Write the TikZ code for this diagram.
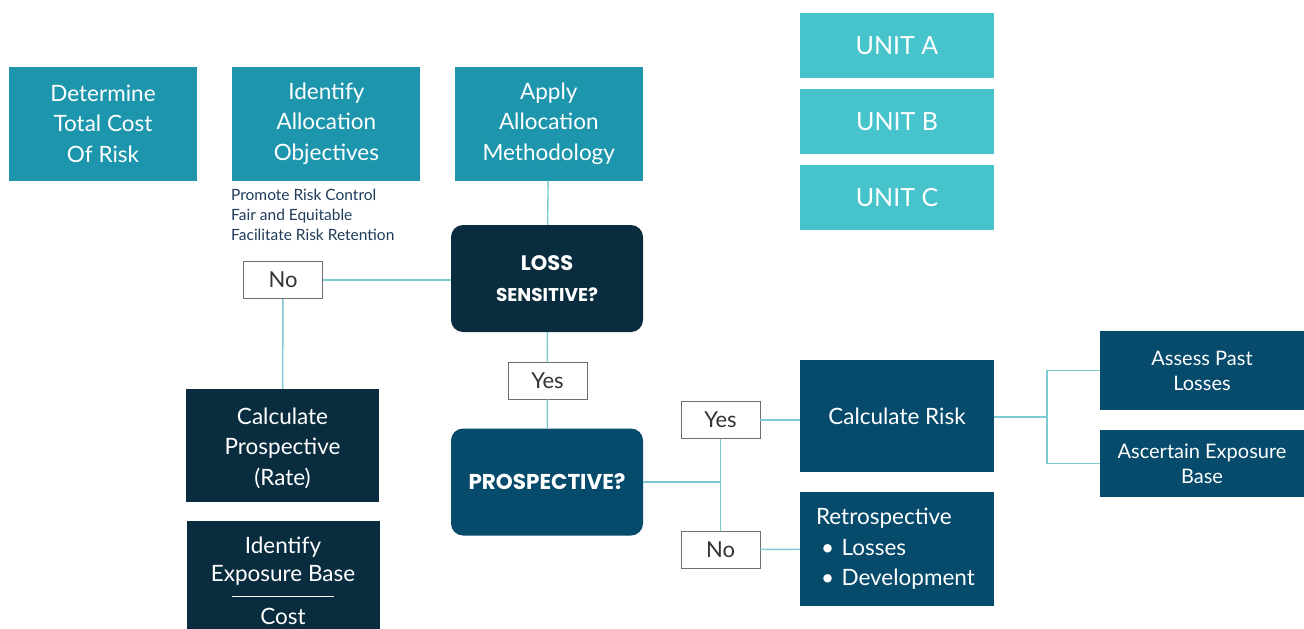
\documentclass[tikz,border=0pt]{standalone}
\usepackage{fontspec}
\setmainfont{Lato}
\newfontfamily\headfont{Poppins}
\usetikzlibrary{positioning}
\definecolor{cTeal}{HTML}{1D96AD}
\definecolor{cUnit}{HTML}{46C3CB}
\definecolor{cNavy}{HTML}{0A2C3F}
\definecolor{cBlue}{HTML}{064B6B}
\definecolor{cLink}{HTML}{7CCBD1}
\definecolor{cTagLine}{HTML}{6E6E6E}
\definecolor{cInk}{HTML}{333333}
\definecolor{cNote}{HTML}{1E3B5A}
\tikzset{
  box/.style   = {rectangle, fill=#1, text=white, inner sep=0pt, align=center,
                  font=\fontsize{22.5}{30.5}\selectfont},
  box/.default = cTeal,
  stage/.style = {box=cTeal, minimum width=188pt, minimum height=114pt},
  unit/.style  = {box=cUnit, minimum width=194pt, minimum height=65pt,
                  font=\fontsize{25}{30}\selectfont},
  calc/.style  = {box=cNavy, minimum width=193pt, minimum height=113pt},
  part/.style  = {box=cBlue, minimum width=194pt},
  side/.style  = {box=cBlue, minimum width=204pt, font=\fontsize{20}{25}\selectfont},
  query/.style = {rectangle, rounded corners=12pt, fill=#1, text=white, inner sep=0pt,
                  align=center, minimum width=192pt, minimum height=107pt},
  tag/.style   = {rectangle, draw=cTagLine, fill=white, line width=0.9pt, inner sep=0pt,
                  minimum width=79pt, minimum height=37pt, text=cInk,
                  font=\fontsize{22}{25}\selectfont},
  note/.style  = {align=left, inner sep=0pt, text=cNote, font=\fontsize{15.5}{20}\selectfont},
  link/.style  = {draw=cLink, line width=1.4pt},
}

\begin{document}
\begin{tikzpicture}[x=1pt, y=-1pt]
  \useasboundingbox (0,0) rectangle (1304,629);

  \node[stage] (total) at (103,123.5) {Determine\\Total Cost\\Of Risk};
  \node[stage, right=35pt of total] (obj) {Identify\\Allocation\\Objectives};
  \node[stage, right=34pt of obj] (apply) {Apply\\Allocation\\Methodology};
  \node[note, anchor=north west] (goals) at (231,189)
    {Promote Risk Control\\Fair and Equitable\\Facilitate Risk Retention};

  \node[unit] (ua) at (897,45.5) {UNIT A};
  \node[unit, below=11pt of ua] (ub) {UNIT B};
  \node[unit, below=10pt of ub] (uc) {UNIT C};

  \node[query=cNavy, font=\headfont\bfseries\fontsize{18.5}{31}\selectfont] (loss) at (547,278.5)
    {{\fontsize{21}{31}\selectfont LOSS}\\SENSITIVE?};
  \node[query=cBlue, font=\headfont\bfseries\fontsize{21.5}{24}\selectfont] (pro) at (547,482) {PROSPECTIVE?};

  \node[tag] (no1) at (283,280) {No};
  \node[tag] (yes1) at (547.5,380.5) {Yes};
  \node[tag] (yes2) at (720.5,420) {Yes};
  \node[tag] (no2) at (720.5,549.5) {No};

  \node[calc] (rate) at (282.5,445.5) {\rule{0pt}{22pt}Calculate\\Prospective\\(Rate)};
  \node[calc, anchor=north, minimum height=108pt, font=\fontsize{22.5}{28}\selectfont] (base) at (283,521)
    {\rule{0pt}{28pt}Identify\\Exposure Base\\[-13pt]\rule{102pt}{0.8pt}\\Cost};

  \node[part, minimum height=112pt] (risk) at (897,416) {Calculate Risk};
  \node[part, minimum height=114pt, align=left, text width=162pt] (retro) at (897,549)
    {Retrospective\\\hspace*{5pt}\textbullet\ Losses\\\hspace*{5pt}\textbullet\ Development};
  \node[side, minimum height=79pt] (past) at (1202,370.5) {Assess Past\\Losses};
  \node[side, minimum height=67pt] (expo) at (1202,463.5) {Ascertain Exposure\\Base};
  \coordinate (fork) at (1047,417);

  \draw[link] (apply) -- (loss);
  \draw[link] (no1.east) -- (no1.east -| loss.west);
  \draw[link] (no1) -- (rate);
  \draw[link] (loss) -- (yes1);
  \draw[link] (yes1) -- (pro);
  \draw[link] (pro.east) -- (pro.east -| yes2);
  \draw[link] (yes2) -- (no2);
  \draw[link] (yes2.east) -- (yes2.east -| risk.west);
  \draw[link] (no2) -- (retro);
  \draw[link] (risk.east |- fork) -- (fork);
  \draw[link] (fork) |- (past.west);
  \draw[link] (fork) |- (expo.west);
\end{tikzpicture}
\end{document}
